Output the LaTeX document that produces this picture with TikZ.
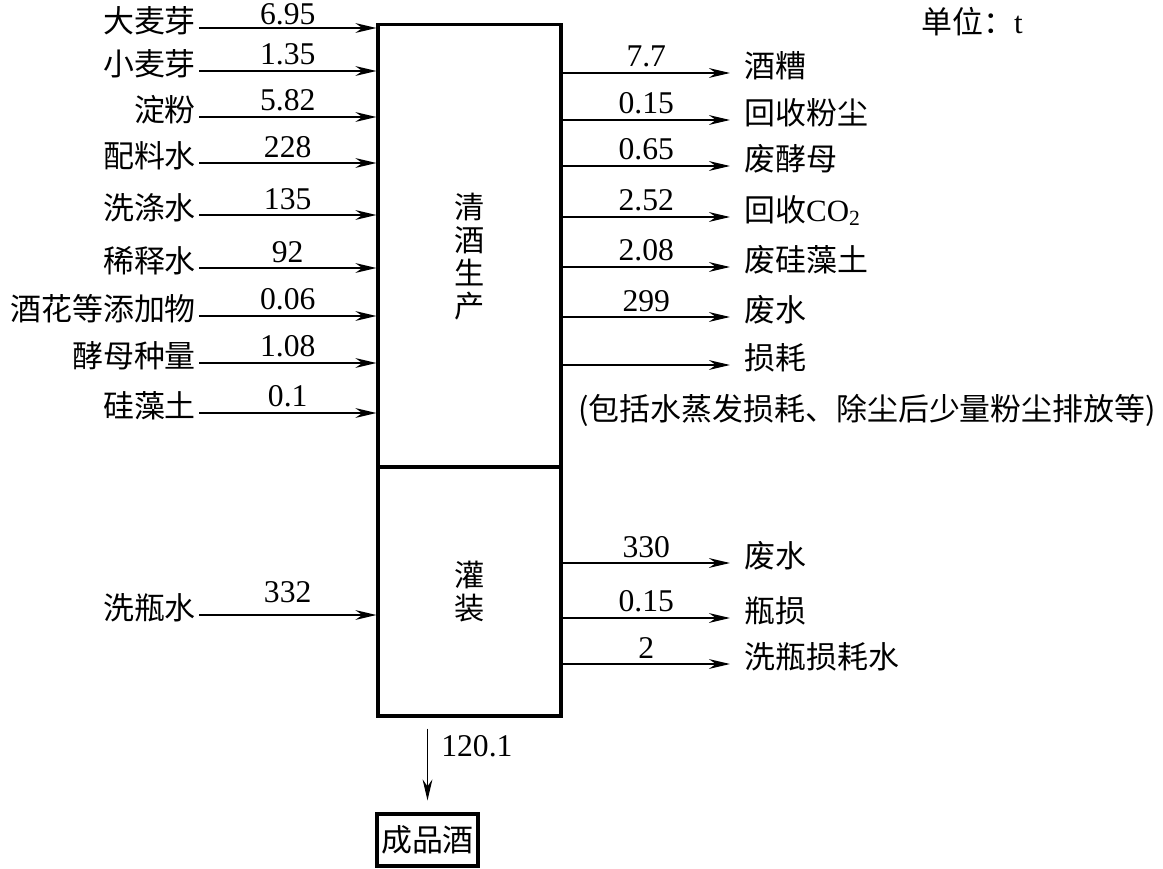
\documentclass[tikz,border=0pt]{standalone}
\usepackage{fontspec}
\setmainfont{Liberation Serif}
\newfontfamily\cjk{Noto Sans CJK SC}
\usepackage{tikz}
\usetikzlibrary{
    arrows.meta,
    positioning,
    calc
}
\newcommand\numFont{\fontsize{22.5pt}{26pt}\selectfont}
\newcommand\cnFont{\fontsize{22pt}{26pt}\selectfont\cjk}

\begin{document}
\begin{tikzpicture}[
    x=0.025cm, y=-0.025cm,
    procBox/.style={
        rectangle,
        draw=black, line width=2.2pt,
        minimum width=4.575cm,
        inner sep=0pt
    },
    boxText/.style={
        align=center, inner sep=0pt,
        font=\fontsize{21.5pt}{23.5pt}\selectfont\cjk
    },
    inLabel/.style={
        anchor=east, inner sep=2pt,
        text height=0.8em, text depth=0.2em,
        font=\cnFont
    },
    outLabel/.style={
        anchor=west, inner ysep=2pt, inner xsep=10pt,
        text height=0.8em, text depth=0.2em,
        font=\cnFont
    },
    numLabel/.style={
        above=0.5pt, inner sep=3pt, font=\numFont
    },
    flowArrow/.style={
        -{Stealth[length=15pt, width=7pt, inset=5pt]}, line width=1pt, draw=black
    }
]
    \useasboundingbox (0,0) rectangle (1163,868);

    % Process boxes
    \node[procBox, minimum height=11.05cm] (brewBox) at (469.5, 246) {};
    \node[procBox, minimum height=6.225cm] (fillBox) at (469.5, 591.5) {};
    \node[procBox, minimum width=2.525cm, minimum height=1.3cm, font=\cnFont] (beerBox) at (427.5, 840) {成品酒};
    \node[boxText] (brewText) at ([yshift=-0.275cm]brewBox.center) {清\\酒\\生\\产};
    \node[boxText] (fillText) at (fillBox.center) {灌\\装};

    % Unit
    \node[anchor=west, inner sep=0pt, font=\cnFont] (unitNote) at (921, 22) {单位：{\rmfamily t}};

    % Inputs to brewing
    \node[inLabel] (inBarley) at (199, 28) {大麦芽};
    \node[inLabel] (inWheat) at (199, 71) {小麦芽};
    \node[inLabel] (inStarch) at (199, 117) {淀粉};
    \node[inLabel] (inBrewWater) at (199, 163) {配料水};
    \node[inLabel] (inWashWater) at (199, 215) {洗涤水};
    \node[inLabel] (inDilWater) at (199, 268) {稀释水};
    \node[inLabel] (inHops) at (199, 316) {酒花等添加物};
    \node[inLabel] (inYeast) at (199, 363) {酵母种量};
    \node[inLabel] (inKiesel) at (199, 413) {硅藻土};

    % Input to filling
    \node[inLabel] (inBottleWater) at (199, 615) {洗瓶水};

    % Outputs of brewing
    \node[outLabel] (outGrains) at (730, 73) {酒糟};
    \node[outLabel] (outDust) at (730, 120) {回收粉尘};
    \node[outLabel] (outYeast) at (730, 166) {废酵母};
    \node[outLabel] (outCO2) at (730, 217) {回收{\rmfamily CO\textsubscript{2}}};
    \node[outLabel] (outKiesel) at (730, 267) {废硅藻土};
    \node[outLabel] (outWaste) at (730, 317) {废水};
    \node[outLabel] (outLoss) at (730, 365) {损耗};
    \node[anchor=west, inner sep=0pt, font=\cnFont] (lossNote) at (578, 410) {(包括水蒸发损耗、除尘后少量粉尘排放等)};

    % Outputs of filling
    \node[outLabel] (outWaste2) at (730, 563) {废水};
    \node[outLabel] (outBreak) at (730, 618) {瓶损};
    \node[outLabel] (outBottleWater) at (730, 664) {洗瓶损耗水};

    % Input arrows
    \draw[flowArrow] (inBarley) -- (inBarley -| brewBox.west) node[midway, numLabel, yshift=-2pt] {6.95};
    \draw[flowArrow] (inWheat) -- (inWheat -| brewBox.west) node[midway, numLabel] {1.35};
    \draw[flowArrow] (inStarch) -- (inStarch -| brewBox.west) node[midway, numLabel] {5.82};
    \draw[flowArrow] (inBrewWater) -- (inBrewWater -| brewBox.west) node[midway, numLabel] {228};
    \draw[flowArrow] (inWashWater) -- (inWashWater -| brewBox.west) node[midway, numLabel] {135};
    \draw[flowArrow] (inDilWater) -- (inDilWater -| brewBox.west) node[midway, numLabel] {92};
    \draw[flowArrow] (inHops) -- (inHops -| brewBox.west) node[midway, numLabel] {0.06};
    \draw[flowArrow] (inYeast) -- (inYeast -| brewBox.west) node[midway, numLabel] {1.08};
    \draw[flowArrow] (inKiesel) -- (inKiesel -| brewBox.west) node[midway, numLabel] {0.1};
    \draw[flowArrow] (inBottleWater) -- (inBottleWater -| fillBox.west) node[midway, numLabel, yshift=5pt] {332};

    % Output arrows
    \draw[flowArrow] (outGrains -| brewBox.east) -- (outGrains) node[midway, numLabel] {7.7};
    \draw[flowArrow] (outDust -| brewBox.east) -- (outDust) node[midway, numLabel] {0.15};
    \draw[flowArrow] (outYeast -| brewBox.east) -- (outYeast) node[midway, numLabel] {0.65};
    \draw[flowArrow] (outCO2 -| brewBox.east) -- (outCO2) node[midway, numLabel] {2.52};
    \draw[flowArrow] (outKiesel -| brewBox.east) -- (outKiesel) node[midway, numLabel] {2.08};
    \draw[flowArrow] (outWaste -| brewBox.east) -- (outWaste) node[midway, numLabel] {299};
    \draw[flowArrow] (outLoss -| brewBox.east) -- (outLoss);
    \draw[flowArrow] (outWaste2 -| fillBox.east) -- (outWaste2) node[midway, numLabel] {330};
    \draw[flowArrow] (outBreak -| fillBox.east) -- (outBreak) node[midway, numLabel] {0.15};
    \draw[flowArrow] (outBottleWater -| fillBox.east) -- (outBottleWater) node[midway, numLabel] {2};

    % Product
    \draw[flowArrow, shorten <=0.275cm, shorten >=0.3cm] (fillBox.south -| beerBox.north) -- (beerBox.north)
        node[pos=0.3, right=6pt, font=\numFont] (prodAmount) {120.1};

\end{tikzpicture}
\end{document}
